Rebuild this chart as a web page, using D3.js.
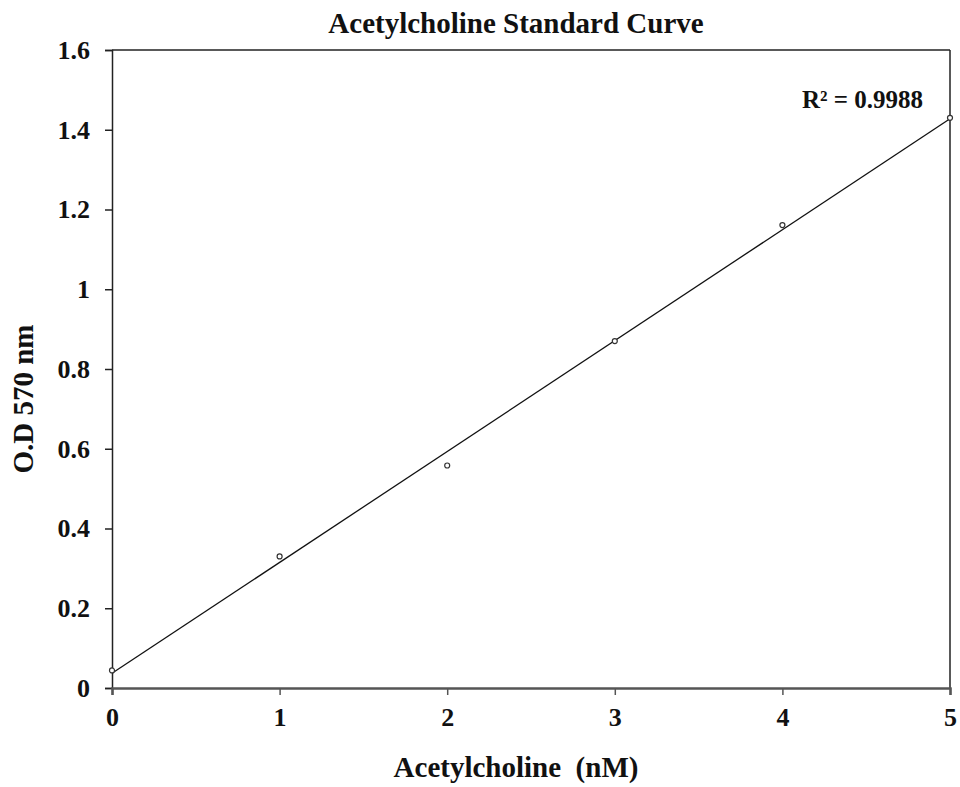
<!DOCTYPE html>
<html>
<head>
<meta charset="utf-8">
<script src="https://cdn.jsdelivr.net/npm/d3@7"></script>
<style>
  body { margin: 0; background: white; }
  text { font-family: "Liberation Serif", "Times New Roman", serif; font-weight: bold; fill: #111; }
</style>
</head>
<body>
<div id="vis1"></div>
<script>
// data
let conc = [0, 1, 2, 3, 4, 5];
let od = [0.044, 0.33, 0.558, 0.87, 1.161, 1.43];
let xTicks = [0, 1, 2, 3, 4, 5];
let yTicks = [0, 0.2, 0.4, 0.6, 0.8, 1, 1.2, 1.4, 1.6];
let r2Label = "R² = 0.9988";

let margin = { top: 50, left: 112, right: 10, bottom: 99 },
  width = 960 - margin.left - margin.right,
  height = 787 - margin.top - margin.bottom;

let svg = d3.select('#vis1')
  .append('svg')
  .attr('width', 960)
  .attr('height', 787)
  .style('background-color', 'white');

let g = svg.append('g').attr('transform', `translate(${margin.left}, ${margin.top})`);

let x = d3.scaleLinear().domain([0, 5]).range([0, width]);
let y = d3.scaleLinear().domain([0, 1.6]).range([height, 0]);

// frame top/right
g.append('line').attr('x1', 0).attr('x2', width).attr('y1', 0).attr('y2', 0)
  .attr('stroke', '#222').attr('stroke-width', 1.5);
g.append('line').attr('x1', width).attr('x2', width).attr('y1', 0).attr('y2', height)
  .attr('stroke', '#222').attr('stroke-width', 1.5);

// y axis
let yAxis = g.append('g')
  .call(d3.axisLeft(y).tickValues(yTicks).tickSize(7).tickPadding(15).tickFormat(d => d3.format('')(d)));
yAxis.select('.domain').attr('stroke', '#222').attr('stroke-width', 1.5);
yAxis.selectAll('.tick line').attr('stroke', '#222').attr('stroke-width', 1.5);
yAxis.selectAll('text').style('font-size', '26px').attr('fill', '#111');

// x axis
let xAxis = g.append('g')
  .attr('transform', `translate(0, ${height})`)
  .call(d3.axisBottom(x).tickValues(xTicks).tickSize(7).tickPadding(13).tickFormat(d3.format('d')));
xAxis.select('.domain').attr('stroke', '#555').attr('stroke-width', 2.5);
xAxis.selectAll('.tick line').attr('stroke', '#555').attr('stroke-width', 1.5);
xAxis.selectAll('text').style('font-size', '26px').attr('fill', '#111');

// least squares trend line
let mx = d3.mean(conc), my = d3.mean(od);
let slope = d3.sum(conc, (c, i) => (c - mx) * (od[i] - my)) / d3.sum(conc, c => (c - mx) ** 2);
let intercept = my - slope * mx;
g.append('line')
  .attr('x1', x(0)).attr('y1', y(intercept))
  .attr('x2', x(5)).attr('y2', y(intercept + slope * 5))
  .attr('stroke', '#111').attr('stroke-width', 1.3);

// points
g.append('g')
  .selectAll('circle')
  .data(conc)
  .join('circle')
  .attr('cx', (d) => x(d))
  .attr('cy', (d, i) => y(od[i]))
  .attr('r', 2.5)
  .attr('fill', 'white')
  .attr('stroke', '#333')
  .attr('stroke-width', 1.2);

// titles
svg.append('text').attr('x', 516).attr('y', 33).attr('text-anchor', 'middle')
  .style('font-size', '29px').text('Acetylcholine Standard Curve');
svg.append('text').attr('x', 516).attr('y', 777).attr('text-anchor', 'middle')
  .style('font-size', '29px').attr('xml:space', 'preserve').text('Acetylcholine  (nM)');
svg.append('text').attr('transform', 'translate(33, 399) rotate(-90)').attr('text-anchor', 'middle')
  .style('font-size', '29px').text('O.D 570 nm');
svg.append('text').attr('x', 802).attr('y', 108)
  .style('font-size', '25px').text(r2Label);
</script>
</body>
</html>
